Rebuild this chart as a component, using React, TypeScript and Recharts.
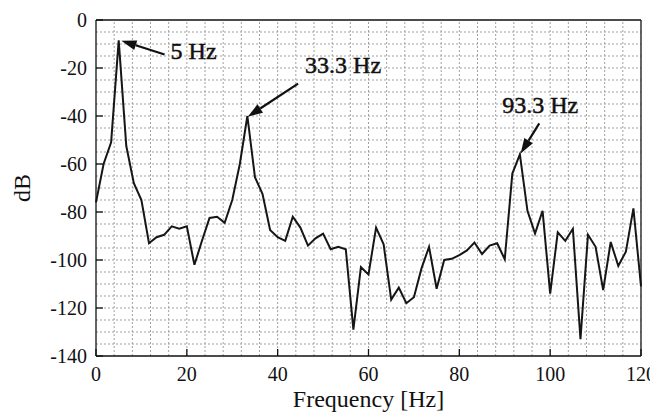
import { LineChart, Line, XAxis, YAxis, ReferenceLine } from 'recharts';

const frequency = [
  0, 1.67, 3.33, 5, 6.67, 8.33, 10, 11.67, 13.33, 15, 16.67, 18.33, 20, 21.67, 23.33, 25, 26.67, 28.33,
  30, 31.67, 33.33, 35, 36.67, 38.33, 40, 41.67, 43.33, 45, 46.67, 48.33, 50, 51.67, 53.33, 55, 56.67,
  58.33, 60, 61.67, 63.33, 65, 66.67, 68.33, 70, 71.67, 73.33, 75, 76.67, 78.33, 80, 81.67, 83.33, 85,
  86.67, 88.33, 90, 91.67, 93.33, 95, 96.67, 98.33, 100, 101.67, 103.33, 105, 106.67, 108.33, 110,
  111.67, 113.33, 115, 116.67, 118.33, 120,
];

const magnitude = [
  -76, -60, -51, -8.5, -52.5, -68, -75, -93, -90.5, -89.5, -86, -87, -86, -102, -92, -82.5, -82, -84.5,
  -75, -60, -40, -65.5, -72.5, -87.5, -90.5, -92, -82, -86.5, -94, -91, -89, -95.5, -94.5, -95.5, -129,
  -103, -106, -86.5, -93.5, -116.5, -111.5, -118, -115.5, -103.5, -94.5, -112, -100, -99.5, -98, -96,
  -92.7, -97.5, -94, -93, -99.7, -64, -56, -79.5, -89, -79.5, -114, -88.5, -92, -87, -133, -89.5, -94.5,
  -112.5, -92.5, -102.5, -96.5, -78.5, -111,
];

const xTicks = [0, 20, 40, 60, 80, 100, 120];
const yTicks = [-140, -120, -100, -80, -60, -40, -20, 0];
const xMinor = [4, 8, 12, 16, 20, 24, 28, 32, 36, 40, 44, 48, 52, 56, 60, 64, 68, 72, 76, 80, 84, 88, 92, 96, 100, 104, 108, 112, 116];
const yMinor = [-135, -130, -125, -120, -115, -110, -105, -100, -95, -90, -85, -80, -75, -70, -65, -60, -55, -50, -45, -40, -35, -30, -25, -20, -15, -10, -5];

// peak callouts: tail -> tip in data units, text offset from the tail in px
const peakLabels = ['5 Hz', '33.3 Hz', '93.3 Hz'];
const peakTips = [
  { x: 5.6, y: -8.6 },
  { x: 33.4, y: -40.3 },
  { x: 93.5, y: -55.6 },
];
const peakTails = [
  { x: 15.1, y: -14.4 },
  { x: 44.5, y: -26.5 },
  { x: 97.6, y: -43.1 },
];
const textOffsets = [
  [6, 4],
  [7, -11],
  [-37, -10],
];

const data = frequency.map((f, i) => ({ f, db: magnitude[i] }));

const FONT = 'Liberation Serif, DejaVu Serif, serif';

const makeArrow = (label: string, off: number[]) => (props: any) => {
  const { x1, y1, x2, y2 } = props;
  const ang = Math.atan2(y2 - y1, x2 - x1);
  const len = 15;
  const half = 5;
  const bx = x2 - len * Math.cos(ang);
  const by = y2 - len * Math.sin(ang);
  const px = -Math.sin(ang) * half;
  const py = Math.cos(ang) * half;
  return (
    <g>
      <line x1={x1} y1={y1} x2={bx} y2={by} stroke="#111" strokeWidth={2.2} />
      <polygon points={`${x2},${y2} ${bx + px},${by + py} ${bx - px},${by - py}`} fill="#111" />
      <text x={x1 + off[0]} y={y1 + off[1]} style={{ fontFamily: FONT }} fontSize={24} fill="#111" stroke="#111" strokeWidth={0.5}>
        {label}
      </text>
    </g>
  );
};

const tickStyle = { fontFamily: FONT, fontSize: 20, fill: '#111' };
const gridLine = { stroke: '#a0a0a0', strokeDasharray: '2 2', strokeWidth: 1 };

export default function App() {
  return (
    <div style={{ fontFamily: FONT }}>
      <LineChart width={650} height={404} data={data} margin={{ top: 11, right: 16, bottom: 0, left: 0 }} style={{ overflow: 'visible' }}>
        {xMinor.map((v) => (
          <ReferenceLine key={'x' + v} x={v} {...gridLine} />
        ))}
        {yMinor.map((v) => (
          <ReferenceLine key={'y' + v} y={v} {...gridLine} />
        ))}
        <XAxis
          dataKey="f"
          type="number"
          domain={[0, 120]}
          ticks={xTicks}
          height={56}
          tickSize={-7}
          tickMargin={18}
          tick={tickStyle}
          stroke="#111"
          strokeWidth={1.3}
          label={{ value: 'Frequency [Hz]', position: 'insideBottom', offset: 0, dy: -5, style: { fontFamily: FONT, fontSize: 24, fill: '#111' } }}
        />
        <YAxis
          type="number"
          domain={[-140, 0]}
          ticks={yTicks}
          width={88}
          tickSize={-7}
          tickMargin={16}
          tick={tickStyle}
          stroke="#111"
          strokeWidth={1.3}
          label={{ value: 'dB', angle: -90, position: 'insideLeft', offset: 4, dx: 9, style: { fontFamily: FONT, fontSize: 24, fill: '#111', textAnchor: 'middle' } }}
        />
        <XAxis xAxisId="top" orientation="top" type="number" domain={[0, 120]} ticks={xTicks} height={1} tick={false} tickSize={-7} stroke="#111" strokeWidth={1.3} />
        <YAxis yAxisId="right" orientation="right" type="number" domain={[-140, 0]} ticks={yTicks} width={1} tick={false} tickSize={-7} stroke="#111" strokeWidth={1.3} />
        <Line type="linear" dataKey="db" stroke="#161616" strokeWidth={2} dot={false} isAnimationActive={false} />
        {peakLabels.map((lab, i) => (
          <ReferenceLine
            key={lab}
            segment={[peakTails[i], peakTips[i]]}
            ifOverflow="visible"
            shape={makeArrow(lab, textOffsets[i])}
          />
        ))}
      </LineChart>
    </div>
  );
}
